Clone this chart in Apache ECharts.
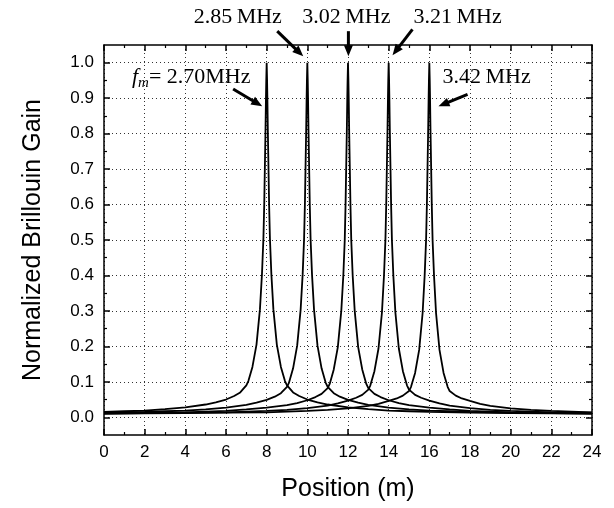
<!DOCTYPE html>
<html><head><meta charset="utf-8">
<script src="https://cdn.jsdelivr.net/npm/echarts@6/dist/echarts.min.js"></script>
<style>html,body{margin:0;padding:0;background:#fff}#c{width:614px;height:508px}</style>
</head><body><div id="c"></div>
<script>
// ---- data ----
const peakPositions = [8, 10, 12, 14, 16];            // peak positions (m)
const offsetsM = [-16,-14,-12,-10,-8,-7,-6,-5,-4,-3,-2.5,-2,-1.6,-1.3,-1,-0.9,-0.7,-0.5,-0.33,-0.23,-0.16,-0.12,-0.09,-0.06,-0.035,-0.02,0,
                  0.02,0.035,0.06,0.09,0.12,0.16,0.23,0.33,0.5,0.7,0.9,1,1.3,1.6,2,2.5,3,4,5,6,7,8,10,12,14,16];
const gain270 = [0.010,0.011,0.012,0.013,0.015,0.017,0.019,0.023,0.028,0.036,0.042,0.050,0.060,0.070,0.090,0.102,0.142,0.205,0.305,0.405,0.505,0.600,0.700,0.800,0.900,0.950,1.000,
                 0.950,0.900,0.800,0.700,0.600,0.505,0.405,0.305,0.205,0.142,0.102,0.090,0.070,0.060,0.050,0.042,0.036,0.028,0.023,0.019,0.017,0.015,0.013,0.012,0.011,0.010];
const gain285 = [0.010,0.011,0.012,0.013,0.015,0.017,0.019,0.022,0.027,0.035,0.041,0.049,0.058,0.068,0.086,0.098,0.138,0.202,0.303,0.403,0.503,0.600,0.700,0.800,0.900,0.950,1.000,
                 0.950,0.900,0.800,0.700,0.600,0.503,0.403,0.303,0.202,0.138,0.098,0.086,0.068,0.058,0.049,0.041,0.035,0.027,0.022,0.019,0.017,0.015,0.013,0.012,0.011,0.010];
const gain302 = [0.010,0.011,0.012,0.013,0.014,0.016,0.018,0.022,0.027,0.034,0.040,0.048,0.057,0.066,0.082,0.094,0.135,0.198,0.300,0.400,0.500,0.600,0.700,0.800,0.900,0.950,1.000,
                 0.950,0.900,0.800,0.700,0.600,0.500,0.400,0.300,0.198,0.135,0.094,0.082,0.066,0.057,0.048,0.040,0.034,0.027,0.022,0.018,0.016,0.014,0.013,0.012,0.011,0.010];
const gain321 = [0.010,0.011,0.012,0.013,0.014,0.016,0.018,0.021,0.026,0.033,0.039,0.047,0.055,0.063,0.078,0.090,0.130,0.194,0.296,0.400,0.500,0.600,0.700,0.800,0.900,0.950,1.000,
                 0.950,0.900,0.800,0.700,0.600,0.500,0.400,0.296,0.194,0.130,0.090,0.078,0.063,0.055,0.047,0.039,0.033,0.026,0.021,0.018,0.016,0.014,0.013,0.012,0.011,0.010];
const gain342 = [0.010,0.011,0.012,0.013,0.014,0.016,0.018,0.021,0.025,0.032,0.038,0.046,0.053,0.061,0.074,0.086,0.125,0.190,0.294,0.400,0.500,0.600,0.700,0.800,0.900,0.950,1.000,
                 0.950,0.900,0.800,0.700,0.600,0.500,0.400,0.294,0.190,0.125,0.086,0.074,0.061,0.053,0.046,0.038,0.032,0.025,0.021,0.018,0.016,0.014,0.013,0.012,0.011,0.010];
const gainCurves = [gain270, gain285, gain302, gain321, gain342];

const xMin = 0, xMax = 24, xStep = 2;
const yTickValues = [0,0.1,0.2,0.3,0.4,0.5,0.6,0.7,0.8,0.9,1.0];
const yMinorValues = [0.05,0.15,0.25,0.35,0.45,0.55,0.65,0.75,0.85,0.95];
const xTitle = 'Position (m)';
const yTitle = 'Normalized Brillouin Gain';

// annotations (data coordinates)
const annoTexts = ['{f|f}{m|m}{t|= 2.70MHz}', '2.85\u2009MHz', '3.02\u2009MHz', '3.21\u2009MHz', '3.42\u2009MHz'];
const annoTextPos = [[4.29,0.959],[6.58,1.128],[11.92,1.128],[17.39,1.128],[18.82,0.959]];
const arrowTails = [[6.35,0.926],[8.52,1.089],[12.02,1.089],[15.17,1.094],[17.88,0.911]];
const arrowHeads = [[7.78,0.877],[9.80,1.018],[12.02,1.018],[14.19,1.021],[16.45,0.877]];

// ---- chart ----
const chart = echarts.init(document.getElementById('c'), null, {renderer:'canvas'});
const sans = '"Liberation Sans", Arial, sans-serif';
const serif = '"Liberation Serif", "Times New Roman", serif';
const black = '#000';

function xAx(pos, main){
  return {
    type:'value', position:pos, min:xMin, max:xMax, interval:xStep,
    axisLine:{show:true, onZero:false, lineStyle:{color:black, width:1.5}},
    axisTick:{show:true, inside:true, length:6, lineStyle:{color:black, width:1.5}},
    minorTick:{show:true, splitNumber:2, length:3, lineStyle:{color:black, width:1.2}},
    axisLabel:{show:main, color:black, fontSize:17, fontFamily:sans, margin:9},
    splitLine:{show:main, lineStyle:{type:[1,3], color:'#333', width:1}},
    minorSplitLine:{show:false},
    name: main ? xTitle : '', nameLocation:'middle', nameGap:42,
    nameTextStyle:{color:black, fontSize:25, fontFamily:sans}
  };
}
function yAx(pos, vals, major, label){
  return {
    type:'value', position:pos, min:-0.05, max:1.05,
    axisLine:{show:major, onZero:false, lineStyle:{color:black, width:1.5}},
    axisTick:{show:true, inside:true, length:major?6:3, customValues:vals, lineStyle:{color:black, width:major?1.5:1.2}},
    axisLabel:{show:label, customValues:vals, color:black, fontSize:17, fontFamily:sans, margin:10,
               formatter:v=>v.toFixed(1)},
    splitLine:{show:label, lineStyle:{type:[1,3], color:'#333', width:1}},
    name: label ? yTitle : '', nameLocation:'middle', nameGap:58,
    nameTextStyle:{color:black, fontSize:25, fontFamily:sans}
  };
}

const series = peakPositions.map((p,i)=>({
  type:'line', xAxisIndex:0, yAxisIndex:0,
  data: offsetsM.map((o,j)=>[p+o, gainCurves[i][j]]).filter(d=>d[0]>=xMin && d[0]<=xMax),
  symbol:'none', showSymbol:false, smooth:false, clip:true,
  lineStyle:{color:black, width:1.8}, animation:false, z:3
}));

chart.setOption({
  animation:false,
  backgroundColor:'#fff',
  grid:{left:104, right:22, top:45, bottom:73, show:false},
  xAxis:[xAx('bottom', true), xAx('top', false)],
  yAxis:[yAx('left', yTickValues, true, true), yAx('left', yMinorValues, false, false),
         yAx('right', yTickValues, true, false), yAx('right', yMinorValues, false, false)],
  series: series
});

// annotations: arrows and labels placed through the data coordinate system
const g = [];
annoTexts.forEach((t,i)=>{
  const pt = chart.convertToPixel({xAxisIndex:0, yAxisIndex:0}, annoTextPos[i]);
  g.push({type:'text', x:pt[0], y:pt[1], z:10,
    style:{text:t, fill:black, font:'22px '+serif, align:'center', verticalAlign:'middle',
      rich:{f:{fontStyle:'italic', fontSize:22, fontFamily:serif, fill:black},
            m:{fontStyle:'italic', fontSize:15, fontFamily:serif, fill:black, padding:[12,0,0,0]},
            t:{fontSize:22, fontFamily:serif, fill:black}}}});
});
arrowTails.forEach((tl,i)=>{
  const a = chart.convertToPixel({xAxisIndex:0, yAxisIndex:0}, tl);
  const b = chart.convertToPixel({xAxisIndex:0, yAxisIndex:0}, arrowHeads[i]);
  const dx=b[0]-a[0], dy=b[1]-a[1], L=Math.hypot(dx,dy), ux=dx/L, uy=dy/L;
  const hl=11, hw=4.5;
  const bx=b[0]-ux*hl, by=b[1]-uy*hl;
  g.push({type:'line', z:10, shape:{x1:a[0],y1:a[1],x2:bx+ux*2,y2:by+uy*2}, style:{stroke:black, lineWidth:3}});
  g.push({type:'polygon', z:10, shape:{points:[[b[0],b[1]],[bx-uy*hw,by+ux*hw],[bx+uy*hw,by-ux*hw]]}, style:{fill:black}});
});
chart.setOption({graphic:g});
</script></body></html>
